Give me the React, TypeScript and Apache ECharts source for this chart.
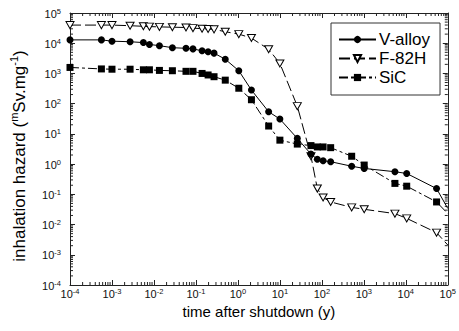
import React, { useEffect, useRef } from "react";
import * as echarts from "echarts";

const times = [1e-4, 5.6e-4, 1.0e-3, 2.7e-3, 5.6e-3, 7.8e-3, 1.35e-2, 2.75e-2, 5.8e-2, 8.5e-2, 0.14, 0.195, 0.27, 0.5, 1.05, 2.1, 5.4, 10, 26, 55, 78, 107, 162, 513, 1020, 5500, 10500, 54000, 1e5];
const vAlloy = [12900, 12900, 11700, 11200, 10500, 9100, 8300, 7100, 6800, 6500, 5600, 5200, 4700, 2950, 1230, 282, 54, 31, 7.1, 2.14, 1.45, 1.29, 1.2, 0.85, 0.72, 0.56, 0.49, 0.155, 0.034];
const f82h = [39800, 39800, 39800, 38000, 36300, 35500, 34700, 33900, 33100, 31600, 30200, 29500, 28800, 24000, 20000, 14800, 6300, 2140, 83, 1.82, 0.155, 0.079, 0.056, 0.037, 0.032, 0.023, 0.016, 0.0054, 0.0021];
const sic = [1580, 1410, 1380, 1380, 1320, 1320, 1260, 1230, 1175, 1175, 1000, 890, 780, 600, 324, 135, 18.2, 6.2, 4.6, 4.1, 3.7, 3.7, 3.5, 1.82, 0.93, 0.23, 0.186, 0.056, 0.023];
const seriesNames = ["V-alloy", "F-82H", "SiC"];
const decadeExponents = [-4, -3, -2, -1, 0, 1, 2, 3, 4];
const minorMultipliers = [2, 3, 4, 5, 6, 7, 8, 9];

const FONT = "'Liberation Sans', Arial, sans-serif";
const minorValues: number[] = [];
decadeExponents.forEach((e) => minorMultipliers.forEach((m) => minorValues.push(m * Math.pow(10, e))));

const build = (vals: number[]) =>
  times.map((t, i) => (i === times.length - 1 ? { value: [t, vals[i]], symbol: "none" } : [t, vals[i]]));

const supRich = {
  b: { fontSize: 11, fontFamily: FONT, color: "#111", lineHeight: 12, verticalAlign: "bottom" },
  s: { fontSize: 7.5, fontFamily: FONT, color: "#111", lineHeight: 12, verticalAlign: "top" },
};
const fmt = (v: number) => `{b|10}{s|${Math.round(Math.log10(v))}}`;

export default function App() {
  const ref = useRef<HTMLDivElement>(null);
  useEffect(() => {
    document.body.style.margin = "0";
    const chart = echarts.init(ref.current!, null, { renderer: "svg" });
    const axisLine = { show: true, lineStyle: { color: "#222", width: 1 } };
    const baseX = {
      type: "log", logBase: 10, min: 1e-4, max: 1e5, splitNumber: 9, interval: 1,
      axisLine, splitLine: { show: false },
      axisTick: { inside: true, length: 5, lineStyle: { color: "#222" } },
    };
    const baseY = {
      type: "log", logBase: 10, min: 1e-4, max: 1e5, splitNumber: 9, interval: 1,
      axisLine, splitLine: { show: false },
      axisTick: { inside: true, length: 5, lineStyle: { color: "#222" } },
    };
    const option: any = {
      animation: false,
      backgroundColor: "#fff",
      grid: { left: 70, right: 8, top: 13, bottom: 46, containLabel: false },
      xAxis: [
        {
          ...baseX, position: "bottom",
          axisLabel: { formatter: fmt, rich: supRich, margin: 2 },
          name: "time after shutdown (y)", nameLocation: "middle", nameGap: 17,
          nameTextStyle: { fontSize: 15, fontFamily: FONT, color: "#000" },
        },
        { ...baseX, position: "top", axisLabel: { show: false } },
      ],
      yAxis: [
        { ...baseY, position: "left", axisLabel: { formatter: fmt, rich: supRich, margin: 9 } },
        { ...baseY, position: "right", axisLabel: { show: false } },
      ],
      legend: {
        data: seriesNames,
        orient: "vertical", left: 331, top: 23,
        itemWidth: 37, itemHeight: 9, itemGap: 2,
        padding: [8, 10, 9, 7],
        borderColor: "#333", borderWidth: 1, borderRadius: 0,
        backgroundColor: "#fff",
        textStyle: { fontSize: 17, fontFamily: FONT, color: "#000", padding: [0, 0, 0, -2] },
      },
      graphic: [
        {
          type: "text", x: 18, y: 156, rotation: Math.PI / 2,
          style: {
            text: "{b|inhalation hazard (}{s|m}{b|Sv.mg}{s|-1}{b|)}",
            align: "center", verticalAlign: "middle",
            rich: {
              b: { fontSize: 17, fontFamily: FONT, fill: "#000", lineHeight: 20, verticalAlign: "bottom" },
              s: { fontSize: 11, fontFamily: FONT, fill: "#000", lineHeight: 20, verticalAlign: "top" },
            },
          },
        },
      ],
      series: [
        {
          name: "V-alloy", type: "line", data: build(vAlloy), xAxisIndex: 0, yAxisIndex: 0,
          symbol: "circle", symbolSize: 7, showAllSymbol: true,
          lineStyle: { color: "#000", width: 1 }, itemStyle: { color: "#000" }, z: 4,
        },
        {
          name: "F-82H", type: "line", data: build(f82h), xAxisIndex: 0, yAxisIndex: 0,
          symbol: "path://M0 0L10 0L5 9Z", symbolSize: [8, 7], showAllSymbol: true,
          lineStyle: { color: "#000", width: 1, type: [11, 4] },
          itemStyle: { color: "#fff", borderColor: "#000", borderWidth: 1 }, z: 3,
        },
        {
          name: "SiC", type: "line", data: build(sic), xAxisIndex: 0, yAxisIndex: 0,
          symbol: "rect", symbolSize: 7, showAllSymbol: true,
          lineStyle: { color: "#000", width: 1, type: [9, 3, 3, 3] }, itemStyle: { color: "#000" }, z: 4,
        },
        {
          type: "custom", silent: true, xAxisIndex: 0, yAxisIndex: 0, z: 1,
          data: minorValues.map((v) => [v, 1]),
          renderItem: (params: any, api: any) => {
            const cs = params.coordSys;
            const p = api.coord([api.value(0), 1]);
            const st = { stroke: "#222", lineWidth: 1 };
            return {
              type: "group",
              children: [
                { type: "line", shape: { x1: p[0], y1: cs.y + cs.height, x2: p[0], y2: cs.y + cs.height - 3 }, style: st },
                { type: "line", shape: { x1: p[0], y1: cs.y, x2: p[0], y2: cs.y + 3 }, style: st },
              ],
            };
          },
        },
        {
          type: "custom", silent: true, xAxisIndex: 0, yAxisIndex: 0, z: 1,
          data: minorValues.map((v) => [1, v]),
          renderItem: (params: any, api: any) => {
            const cs = params.coordSys;
            const p = api.coord([1, api.value(1)]);
            const st = { stroke: "#222", lineWidth: 1 };
            return {
              type: "group",
              children: [
                { type: "line", shape: { x1: cs.x, y1: p[1], x2: cs.x + 3, y2: p[1] }, style: st },
                { type: "line", shape: { x1: cs.x + cs.width, y1: p[1], x2: cs.x + cs.width - 3, y2: p[1] }, style: st },
              ],
            };
          },
        },
      ],
    };
    chart.setOption(option);
    return () => chart.dispose();
  }, []);
  return <div ref={ref} style={{ position: "absolute", left: 0, top: 0, width: 459, height: 331 }} />;
}
